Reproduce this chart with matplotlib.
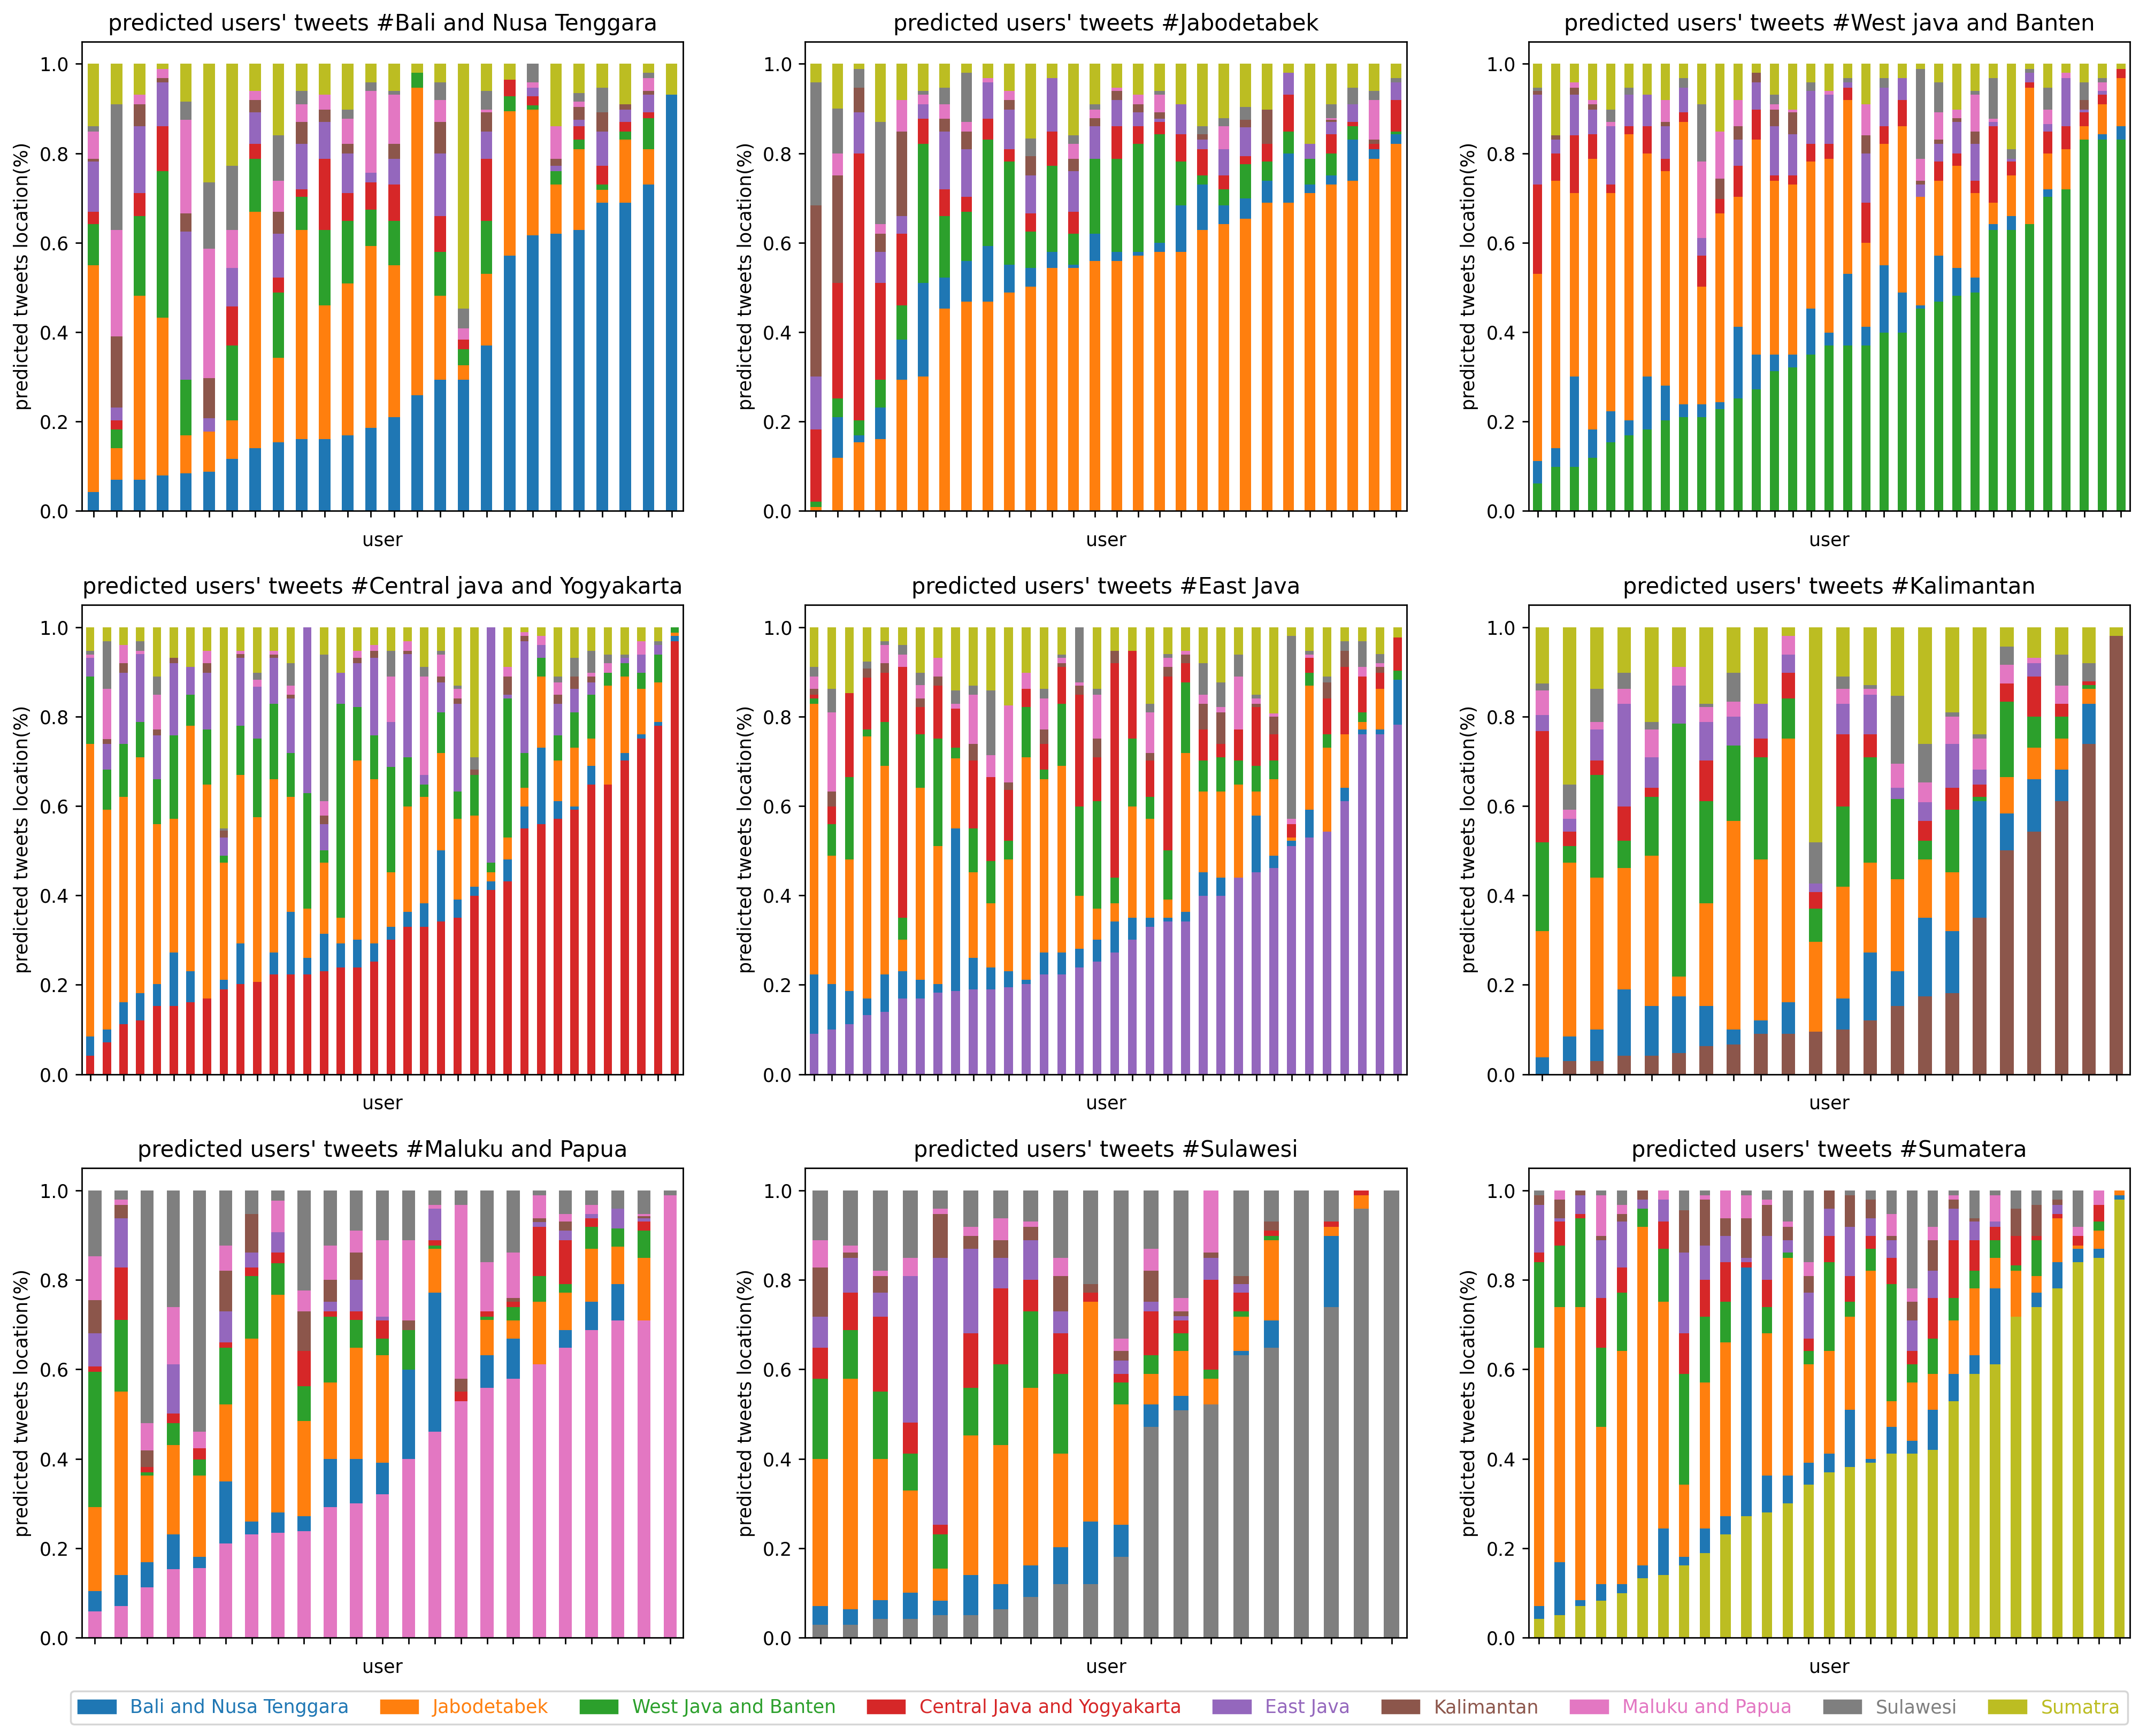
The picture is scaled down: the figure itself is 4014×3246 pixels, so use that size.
import numpy as np
import matplotlib
matplotlib.use("Agg")
import matplotlib.pyplot as plt
from matplotlib.patches import Patch

# bolge isimleri (legend)
regions = ["Bali and Nusa Tenggara", "Jabodetabek", "West Java and Banten",
           "Central Java and Yogyakarta", "East Java", "Kalimantan",
           "Maluku and Papua", "Sulawesi", "Sumatra"]
titles = ["Bali and Nusa Tenggara", "Jabodetabek", "West java and Banten",
          "Central java and Yogyakarta", "East Java", "Kalimantan",
          "Maluku and Papua", "Sulawesi", "Sumatera"]

# her bar icin kumulatif segment ustleri (alttan yukari, son segment 1.0'a kadar)
bali = [
    [0.042, 0.55, 0.641, 0.669, 0.781, 0.788, 0.849, 0.861],
    [0.07, 0.14, 0.182, 0.202, 0.231, 0.39, 0.628, 0.91],
    [0.07, 0.481, 0.66, 0.711, 0.861, 0.91, 0.931, 0.931],
    [0.079, 0.432, 0.76, 0.861, 0.959, 0.968, 0.989, 0.989],
    [0.084, 0.169, 0.293, 0.293, 0.625, 0.665, 0.875, 0.915],
    [0.088, 0.178, 0.178, 0.178, 0.207, 0.297, 0.587, 0.735],
    [0.117, 0.202, 0.37, 0.457, 0.543, 0.543, 0.628, 0.772],
    [0.14, 0.669, 0.788, 0.821, 0.891, 0.919, 0.94, 0.94],
    [0.154, 0.342, 0.489, 0.522, 0.62, 0.669, 0.739, 0.84],
    [0.161, 0.628, 0.702, 0.719, 0.821, 0.87, 0.91, 0.94],
    [0.161, 0.46, 0.628, 0.788, 0.87, 0.898, 0.931, 0.931],
    [0.169, 0.509, 0.649, 0.711, 0.80, 0.821, 0.877, 0.898],
    [0.186, 0.592, 0.674, 0.735, 0.756, 0.756, 0.94, 0.959],
    [0.21, 0.55, 0.649, 0.73, 0.788, 0.821, 0.931, 0.94],
    [0.259, 0.947, 0.98, 0.98, 0.98, 0.98, 0.98, 0.98],
    [0.293, 0.481, 0.579, 0.66, 0.80, 0.87, 0.919, 0.959],
    [0.293, 0.326, 0.362, 0.383, 0.383, 0.383, 0.408, 0.453],
    [0.37, 0.53, 0.649, 0.788, 0.849, 0.891, 0.898, 0.94],
    [0.571, 0.894, 0.928, 0.964, 0.964, 0.964, 0.964, 0.964],
    [0.616, 0.898, 0.907, 0.928, 0.947, 0.947, 0.959, 1.0],
    [0.62, 0.73, 0.76, 0.76, 0.772, 0.788, 0.861, 0.861],
    [0.628, 0.809, 0.83, 0.861, 0.875, 0.903, 0.915, 0.935],
    [0.69, 0.718, 0.73, 0.772, 0.849, 0.891, 0.891, 0.947],
    [0.69, 0.83, 0.849, 0.87, 0.898, 0.91, 0.91, 0.91],
    [0.73, 0.809, 0.879, 0.891, 0.931, 0.94, 0.968, 0.98],
    [0.931, 0.931, 0.931, 0.931, 0.931, 0.931, 0.931, 0.931],
]
jabodetabek = [
    [0.009, 0.009, 0.021, 0.182, 0.301, 0.683, 0.683, 0.959],
    [0.119, 0.21, 0.252, 0.51, 0.51, 0.751, 0.80, 0.90],
    [0.153, 0.169, 0.202, 0.80, 0.891, 0.947, 0.947, 0.989],
    [0.161, 0.231, 0.293, 0.51, 0.579, 0.62, 0.641, 0.87],
    [0.293, 0.383, 0.46, 0.62, 0.66, 0.849, 0.919, 0.919],
    [0.301, 0.51, 0.821, 0.877, 0.91, 0.91, 0.931, 0.94],
    [0.452, 0.522, 0.66, 0.719, 0.849, 0.877, 0.91, 0.947],
    [0.468, 0.559, 0.669, 0.702, 0.809, 0.849, 0.87, 0.98],
    [0.468, 0.592, 0.83, 0.877, 0.959, 0.959, 0.968, 0.968],
    [0.489, 0.551, 0.781, 0.809, 0.898, 0.919, 0.94, 0.94],
    [0.502, 0.543, 0.625, 0.665, 0.751, 0.793, 0.793, 0.833],
    [0.543, 0.579, 0.772, 0.849, 0.968, 0.968, 0.968, 0.968],
    [0.543, 0.551, 0.62, 0.669, 0.76, 0.788, 0.821, 0.84],
    [0.559, 0.62, 0.788, 0.788, 0.861, 0.879, 0.898, 0.91],
    [0.559, 0.579, 0.788, 0.861, 0.919, 0.94, 0.947, 0.947],
    [0.571, 0.579, 0.821, 0.861, 0.891, 0.91, 0.931, 0.931],
    [0.579, 0.60, 0.842, 0.87, 0.877, 0.891, 0.931, 0.94],
    [0.579, 0.683, 0.781, 0.842, 0.91, 0.91, 0.91, 0.91],
    [0.628, 0.73, 0.751, 0.809, 0.83, 0.842, 0.842, 0.861],
    [0.641, 0.683, 0.719, 0.751, 0.809, 0.809, 0.861, 0.879],
    [0.653, 0.699, 0.775, 0.793, 0.858, 0.875, 0.875, 0.903],
    [0.69, 0.739, 0.781, 0.821, 0.821, 0.898, 0.898, 0.898],
    [0.69, 0.80, 0.849, 0.931, 0.98, 0.98, 0.98, 0.98],
    [0.711, 0.73, 0.788, 0.788, 0.821, 0.821, 0.821, 0.821],
    [0.73, 0.751, 0.80, 0.842, 0.87, 0.875, 0.879, 0.91],
    [0.739, 0.83, 0.861, 0.87, 0.91, 0.91, 0.91, 0.947],
    [0.788, 0.809, 0.809, 0.821, 0.821, 0.83, 0.919, 0.94],
    [0.821, 0.842, 0.849, 0.919, 0.959, 0.959, 0.959, 0.968],
]
west_java = [
    [0.062, 0.112, 0.53, 0.73, 0.931, 0.94, 0.94, 0.947],
    [0.099, 0.14, 0.739, 0.80, 0.83, 0.84, 0.84, 0.84],
    [0.099, 0.301, 0.711, 0.84, 0.931, 0.947, 0.959, 0.959],
    [0.119, 0.182, 0.788, 0.842, 0.898, 0.91, 0.919, 0.919],
    [0.153, 0.223, 0.711, 0.73, 0.861, 0.861, 0.87, 0.898],
    [0.169, 0.202, 0.842, 0.861, 0.931, 0.931, 0.931, 0.947],
    [0.182, 0.301, 0.80, 0.861, 0.931, 0.931, 0.931, 0.931],
    [0.202, 0.28, 0.76, 0.788, 0.861, 0.87, 0.919, 0.919],
    [0.21, 0.238, 0.87, 0.891, 0.947, 0.947, 0.947, 0.968],
    [0.21, 0.238, 0.502, 0.571, 0.611, 0.611, 0.781, 0.91],
    [0.228, 0.243, 0.665, 0.698, 0.698, 0.743, 0.849, 0.849],
    [0.252, 0.412, 0.702, 0.772, 0.83, 0.861, 0.919, 0.919],
    [0.272, 0.35, 0.83, 0.898, 0.959, 0.98, 0.98, 0.98],
    [0.313, 0.35, 0.739, 0.751, 0.861, 0.898, 0.91, 0.931],
    [0.321, 0.35, 0.73, 0.751, 0.842, 0.891, 0.898, 0.898],
    [0.35, 0.453, 0.781, 0.821, 0.94, 0.94, 0.94, 0.959],
    [0.37, 0.399, 0.788, 0.821, 0.931, 0.931, 0.94, 0.94],
    [0.37, 0.53, 0.919, 0.947, 0.959, 0.959, 0.959, 0.968],
    [0.37, 0.412, 0.60, 0.69, 0.80, 0.84, 0.91, 0.91],
    [0.399, 0.55, 0.821, 0.861, 0.947, 0.947, 0.947, 0.968],
    [0.399, 0.489, 0.861, 0.919, 0.968, 0.968, 0.968, 0.968],
    [0.452, 0.46, 0.702, 0.702, 0.73, 0.739, 0.788, 0.989],
    [0.468, 0.571, 0.739, 0.781, 0.821, 0.83, 0.891, 0.959],
    [0.481, 0.543, 0.772, 0.80, 0.87, 0.879, 0.898, 0.898],
    [0.489, 0.522, 0.711, 0.739, 0.821, 0.849, 0.931, 0.94],
    [0.628, 0.641, 0.69, 0.861, 0.87, 0.87, 0.877, 0.968],
    [0.628, 0.66, 0.751, 0.781, 0.788, 0.788, 0.788, 0.809],
    [0.641, 0.641, 0.947, 0.959, 0.98, 0.98, 0.98, 0.989],
    [0.702, 0.719, 0.80, 0.849, 0.865, 0.865, 0.898, 0.947],
    [0.719, 0.719, 0.809, 0.861, 0.968, 0.968, 0.98, 0.98],
    [0.83, 0.83, 0.861, 0.891, 0.898, 0.919, 0.919, 0.959],
    [0.83, 0.842, 0.91, 0.931, 0.94, 0.94, 0.959, 0.968],
    [0.83, 0.861, 0.968, 0.989, 0.989, 0.989, 0.989, 0.989],
]
central_java = [
    [0.042, 0.084, 0.739, 0.89, 0.931, 0.931, 0.939, 0.947],
    [0.071, 0.10, 0.592, 0.681, 0.739, 0.75, 0.862, 0.968],
    [0.112, 0.161, 0.62, 0.739, 0.898, 0.919, 0.96, 0.96],
    [0.12, 0.181, 0.709, 0.788, 0.94, 0.94, 0.947, 0.968],
    [0.153, 0.202, 0.559, 0.66, 0.758, 0.771, 0.849, 0.89],
    [0.153, 0.272, 0.571, 0.758, 0.919, 0.931, 0.931, 0.931],
    [0.161, 0.231, 0.779, 0.849, 0.911, 0.911, 0.911, 0.911],
    [0.17, 0.17, 0.648, 0.771, 0.898, 0.919, 0.947, 0.947],
    [0.19, 0.211, 0.473, 0.489, 0.529, 0.545, 0.545, 0.55],
    [0.202, 0.293, 0.669, 0.779, 0.931, 0.94, 0.947, 0.947],
    [0.207, 0.207, 0.575, 0.751, 0.867, 0.867, 0.882, 0.898],
    [0.223, 0.272, 0.66, 0.828, 0.931, 0.939, 0.947, 0.947],
    [0.223, 0.363, 0.62, 0.718, 0.841, 0.849, 0.869, 0.919],
    [0.223, 0.26, 0.37, 0.629, 1.0, 1.0, 1.0, 1.0],
    [0.231, 0.314, 0.473, 0.501, 0.559, 0.578, 0.611, 0.939],
    [0.239, 0.293, 0.35, 0.828, 0.898, 0.898, 0.898, 0.898],
    [0.239, 0.301, 0.702, 0.821, 0.919, 0.931, 0.947, 0.947],
    [0.252, 0.293, 0.66, 0.758, 0.931, 0.947, 0.96, 0.96],
    [0.301, 0.33, 0.452, 0.688, 0.788, 0.788, 0.89, 0.947],
    [0.33, 0.363, 0.599, 0.709, 0.94, 0.947, 0.968, 0.968],
    [0.33, 0.382, 0.62, 0.648, 0.669, 0.669, 0.89, 0.911],
    [0.342, 0.501, 0.718, 0.809, 0.877, 0.89, 0.939, 0.947],
    [0.35, 0.391, 0.571, 0.632, 0.828, 0.841, 0.862, 0.869],
    [0.399, 0.419, 0.578, 0.669, 0.669, 0.681, 0.681, 0.709],
    [0.412, 0.431, 0.452, 0.473, 1.0, 1.0, 1.0, 1.0],
    [0.431, 0.48, 0.529, 0.841, 0.849, 0.89, 0.911, 0.911],
    [0.55, 0.599, 0.641, 0.718, 0.968, 0.98, 0.989, 0.989],
    [0.559, 0.73, 0.89, 0.931, 0.96, 0.96, 0.98, 0.98],
    [0.571, 0.611, 0.702, 0.758, 0.828, 0.849, 0.877, 0.89],
    [0.592, 0.599, 0.73, 0.809, 0.862, 0.89, 0.89, 0.931],
    [0.648, 0.69, 0.751, 0.849, 0.877, 0.89, 0.898, 0.947],
    [0.648, 0.648, 0.869, 0.898, 0.898, 0.898, 0.919, 0.939],
    [0.702, 0.718, 0.89, 0.919, 0.931, 0.931, 0.931, 0.939],
    [0.751, 0.76, 0.862, 0.898, 0.939, 0.939, 0.968, 0.968],
    [0.779, 0.788, 0.877, 0.939, 0.96, 0.96, 0.96, 0.968],
    [0.968, 0.98, 0.988, 1.0, 1.0, 1.0, 1.0, 1.0],
]
east_java = [
    [0.091, 0.223, 0.828, 0.841, 0.849, 0.862, 0.89, 0.911],
    [0.10, 0.202, 0.489, 0.559, 0.599, 0.632, 0.809, 0.862],
    [0.112, 0.186, 0.48, 0.665, 0.853, 0.853, 0.853, 0.853],
    [0.132, 0.17, 0.755, 0.771, 0.887, 0.907, 0.907, 0.923],
    [0.14, 0.223, 0.69, 0.788, 0.898, 0.919, 0.96, 0.968],
    [0.17, 0.231, 0.301, 0.35, 0.911, 0.911, 0.939, 0.96],
    [0.169, 0.211, 0.641, 0.76, 0.821, 0.841, 0.87, 0.898],
    [0.182, 0.202, 0.51, 0.751, 0.869, 0.89, 0.931, 0.931],
    [0.186, 0.55, 0.706, 0.73, 0.818, 0.818, 0.828, 0.858],
    [0.19, 0.26, 0.452, 0.55, 0.702, 0.739, 0.849, 0.869],
    [0.19, 0.239, 0.382, 0.477, 0.665, 0.665, 0.714, 0.858],
    [0.195, 0.231, 0.48, 0.522, 0.636, 0.653, 0.825, 0.825],
    [0.202, 0.211, 0.709, 0.821, 0.862, 0.862, 0.898, 0.898],
    [0.223, 0.272, 0.66, 0.681, 0.739, 0.771, 0.841, 0.862],
    [0.223, 0.272, 0.69, 0.828, 0.911, 0.919, 0.931, 0.939],
    [0.239, 0.281, 0.399, 0.599, 0.849, 0.869, 0.877, 1.0],
    [0.252, 0.301, 0.37, 0.611, 0.709, 0.751, 0.849, 0.862],
    [0.272, 0.342, 0.382, 0.44, 0.919, 0.947, 0.947, 0.947],
    [0.301, 0.35, 0.599, 0.751, 0.947, 0.947, 0.947, 0.947],
    [0.33, 0.35, 0.571, 0.62, 0.702, 0.718, 0.809, 0.828],
    [0.342, 0.35, 0.391, 0.501, 0.89, 0.911, 0.931, 0.94],
    [0.342, 0.363, 0.718, 0.877, 0.919, 0.939, 0.947, 0.947],
    [0.399, 0.452, 0.632, 0.702, 0.771, 0.828, 0.849, 0.919],
    [0.399, 0.44, 0.632, 0.709, 0.739, 0.809, 0.821, 0.877],
    [0.44, 0.44, 0.648, 0.702, 0.771, 0.771, 0.89, 0.939],
    [0.452, 0.578, 0.632, 0.69, 0.821, 0.828, 0.841, 0.849],
    [0.461, 0.489, 0.66, 0.702, 0.76, 0.80, 0.807, 0.807],
    [0.51, 0.522, 0.529, 0.529, 0.559, 0.559, 0.571, 0.98],
    [0.529, 0.592, 0.869, 0.898, 0.931, 0.931, 0.939, 0.947],
    [0.543, 0.543, 0.73, 0.76, 0.841, 0.877, 0.877, 0.89],
    [0.611, 0.641, 0.76, 0.76, 0.911, 0.947, 0.947, 0.968],
    [0.76, 0.771, 0.788, 0.809, 0.89, 0.89, 0.911, 0.968],
    [0.76, 0.771, 0.862, 0.862, 0.898, 0.911, 0.919, 0.94],
    [0.782, 0.882, 0.882, 0.903, 0.977, 0.977, 0.977, 0.977],
]
kalimantan = [
    [0.0, 0.038, 0.32, 0.519, 0.767, 0.804, 0.858, 0.874],
    [0.03, 0.084, 0.473, 0.51, 0.543, 0.571, 0.592, 0.648],
    [0.03, 0.10, 0.44, 0.669, 0.702, 0.771, 0.788, 0.862],
    [0.042, 0.19, 0.461, 0.522, 0.599, 0.828, 0.862, 0.898],
    [0.042, 0.153, 0.489, 0.62, 0.641, 0.709, 0.771, 0.788],
    [0.048, 0.174, 0.219, 0.784, 0.784, 0.869, 0.911, 0.911],
    [0.063, 0.153, 0.382, 0.611, 0.702, 0.788, 0.821, 0.828],
    [0.067, 0.10, 0.567, 0.735, 0.735, 0.80, 0.833, 0.898],
    [0.091, 0.12, 0.48, 0.709, 0.751, 0.828, 0.828, 0.828],
    [0.091, 0.161, 0.751, 0.841, 0.898, 0.939, 0.98, 0.98],
    [0.095, 0.095, 0.296, 0.37, 0.407, 0.427, 0.427, 0.519],
    [0.10, 0.17, 0.419, 0.599, 0.76, 0.828, 0.862, 0.89],
    [0.12, 0.272, 0.473, 0.709, 0.76, 0.849, 0.862, 0.87],
    [0.153, 0.231, 0.436, 0.616, 0.616, 0.641, 0.694, 0.846],
    [0.174, 0.35, 0.48, 0.522, 0.567, 0.608, 0.653, 0.739],
    [0.181, 0.32, 0.452, 0.592, 0.641, 0.739, 0.80, 0.809],
    [0.35, 0.611, 0.611, 0.62, 0.648, 0.681, 0.751, 0.76],
    [0.501, 0.583, 0.665, 0.833, 0.874, 0.874, 0.916, 0.956],
    [0.543, 0.66, 0.73, 0.80, 0.89, 0.919, 0.931, 0.931],
    [0.611, 0.681, 0.751, 0.80, 0.828, 0.828, 0.869, 0.939],
    [0.739, 0.828, 0.862, 0.871, 0.879, 0.879, 0.879, 0.919],
    [0.98, 0.98, 0.98, 0.98, 0.98, 0.98, 0.98, 0.98],
]
maluku = [
    [0.058, 0.104, 0.292, 0.595, 0.607, 0.681, 0.755, 0.853],
    [0.07, 0.14, 0.55, 0.711, 0.828, 0.938, 0.968, 0.98],
    [0.112, 0.169, 0.362, 0.37, 0.382, 0.382, 0.419, 0.48],
    [0.153, 0.231, 0.431, 0.48, 0.501, 0.611, 0.611, 0.739],
    [0.156, 0.181, 0.362, 0.398, 0.424, 0.424, 0.424, 0.461],
    [0.21, 0.349, 0.522, 0.648, 0.66, 0.73, 0.821, 0.877],
    [0.231, 0.259, 0.669, 0.809, 0.828, 0.861, 0.947, 0.947],
    [0.235, 0.28, 0.767, 0.837, 0.861, 0.907, 0.907, 0.977],
    [0.238, 0.272, 0.485, 0.562, 0.641, 0.641, 0.73, 0.776],
    [0.292, 0.399, 0.571, 0.718, 0.73, 0.751, 0.80, 0.877],
    [0.30, 0.399, 0.648, 0.711, 0.73, 0.80, 0.861, 0.91],
    [0.321, 0.391, 0.632, 0.669, 0.709, 0.718, 0.718, 0.889],
    [0.399, 0.599, 0.599, 0.688, 0.688, 0.688, 0.709, 0.889],
    [0.461, 0.772, 0.87, 0.877, 0.889, 0.959, 0.959, 0.968],
    [0.529, 0.529, 0.529, 0.529, 0.55, 0.55, 0.579, 0.968],
    [0.559, 0.632, 0.711, 0.718, 0.73, 0.73, 0.73, 0.84],
    [0.579, 0.669, 0.709, 0.739, 0.751, 0.751, 0.76, 0.861],
    [0.611, 0.611, 0.751, 0.809, 0.919, 0.93, 0.938, 0.989],
    [0.648, 0.688, 0.772, 0.791, 0.889, 0.91, 0.931, 0.947],
    [0.688, 0.751, 0.87, 0.919, 0.938, 0.947, 0.947, 0.968],
    [0.709, 0.791, 0.874, 0.915, 0.915, 0.959, 0.959, 0.959],
    [0.709, 0.709, 0.849, 0.91, 0.931, 0.938, 0.942, 0.947],
    [0.989, 0.989, 0.989, 0.989, 0.989, 0.989, 0.989, 0.989],
]
sulawesi = [
    [0.029, 0.071, 0.399, 0.579, 0.648, 0.718, 0.828, 0.889],
    [0.029, 0.063, 0.579, 0.688, 0.772, 0.849, 0.861, 0.877],
    [0.042, 0.084, 0.399, 0.55, 0.718, 0.772, 0.809, 0.821],
    [0.042, 0.10, 0.329, 0.412, 0.481, 0.809, 0.809, 0.849],
    [0.05, 0.083, 0.154, 0.231, 0.252, 0.849, 0.947, 0.959],
    [0.05, 0.14, 0.452, 0.559, 0.681, 0.87, 0.898, 0.919],
    [0.063, 0.12, 0.431, 0.611, 0.781, 0.849, 0.889, 0.938],
    [0.091, 0.161, 0.559, 0.73, 0.80, 0.889, 0.919, 0.931],
    [0.12, 0.202, 0.412, 0.59, 0.681, 0.73, 0.809, 0.849],
    [0.12, 0.259, 0.751, 0.751, 0.772, 0.772, 0.791, 0.791],
    [0.181, 0.252, 0.522, 0.571, 0.59, 0.62, 0.641, 0.669],
    [0.471, 0.522, 0.59, 0.632, 0.73, 0.751, 0.821, 0.87],
    [0.508, 0.541, 0.641, 0.681, 0.709, 0.719, 0.73, 0.76],
    [0.522, 0.522, 0.579, 0.599, 0.80, 0.849, 0.861, 1.0],
    [0.632, 0.641, 0.718, 0.73, 0.772, 0.791, 0.809, 0.809],
    [0.648, 0.709, 0.889, 0.898, 0.91, 0.91, 0.931, 0.931],
    [1.0, 1.0, 1.0, 1.0, 1.0, 1.0, 1.0, 1.0],
    [0.739, 0.898, 0.919, 0.919, 0.931, 0.931, 0.931, 0.931],
    [0.959, 0.959, 0.989, 0.989, 1.0, 1.0, 1.0, 1.0],
    [1.0, 1.0, 1.0, 1.0, 1.0, 1.0, 1.0, 1.0],
]
sumatera = [
    [0.042, 0.071, 0.648, 0.84, 0.861, 0.968, 0.989, 0.989],
    [0.05, 0.169, 0.739, 0.877, 0.931, 0.938, 0.98, 1.0],
    [0.071, 0.084, 0.739, 0.938, 0.947, 0.989, 1.0, 1.0],
    [0.083, 0.12, 0.471, 0.648, 0.76, 0.889, 0.898, 0.989],
    [0.099, 0.12, 0.641, 0.772, 0.828, 0.931, 0.947, 0.968],
    [0.133, 0.161, 0.919, 0.959, 0.959, 0.98, 1.0, 1.0],
    [0.14, 0.244, 0.751, 0.87, 0.931, 0.98, 0.98, 1.0],
    [0.161, 0.181, 0.342, 0.59, 0.681, 0.861, 0.956, 0.956],
    [0.189, 0.244, 0.571, 0.718, 0.80, 0.877, 0.98, 0.989],
    [0.231, 0.272, 0.66, 0.751, 0.84, 0.898, 0.938, 1.0],
    [0.272, 0.828, 0.828, 0.828, 0.84, 0.849, 0.938, 0.989],
    [0.28, 0.362, 0.681, 0.739, 0.80, 0.898, 0.968, 0.98],
    [0.30, 0.362, 0.849, 0.861, 0.861, 0.889, 0.919, 0.931],
    [0.342, 0.391, 0.611, 0.641, 0.669, 0.772, 0.809, 0.84],
    [0.37, 0.412, 0.641, 0.84, 0.898, 0.959, 1.0, 1.0],
    [0.382, 0.509, 0.718, 0.751, 0.809, 0.919, 0.989, 0.989],
    [0.391, 0.399, 0.821, 0.87, 0.898, 0.938, 0.98, 0.98],
    [0.412, 0.471, 0.529, 0.791, 0.849, 0.889, 0.898, 0.947],
    [0.412, 0.44, 0.571, 0.611, 0.641, 0.709, 0.751, 0.781],
    [0.42, 0.509, 0.59, 0.669, 0.76, 0.821, 0.889, 0.919],
    [0.529, 0.59, 0.709, 0.76, 0.889, 0.959, 0.98, 0.989],
    [0.59, 0.632, 0.781, 0.821, 0.889, 0.931, 0.938, 0.938],
    [0.611, 0.781, 0.849, 0.889, 0.919, 0.931, 0.931, 0.989],
    [0.718, 0.718, 0.821, 0.833, 0.898, 0.898, 0.959, 0.959],
    [0.739, 0.772, 0.809, 0.889, 0.898, 0.898, 0.968, 0.968],
    [0.781, 0.84, 0.938, 0.938, 0.947, 0.968, 0.98, 0.98],
    [0.84, 0.87, 0.877, 0.877, 0.898, 0.898, 0.898, 0.919],
    [0.849, 0.87, 0.91, 0.931, 0.968, 0.968, 0.968, 1.0],
    [0.98, 0.989, 1.0, 1.0, 1.0, 1.0, 1.0, 1.0],
]

all_data = [bali, jabodetabek, west_java, central_java, east_java,
            kalimantan, maluku, sulawesi, sumatera]

# renkler: tab10, her grafikte alttan yukari renk sirasi
renkler = plt.rcParams['axes.prop_cycle'].by_key()['color']
stack_order = [
    [0, 1, 2, 3, 4, 5, 6, 7, 8],
    [1, 0, 2, 3, 4, 5, 6, 7, 8],
    [2, 0, 1, 3, 4, 5, 6, 7, 8],
    [3, 0, 1, 2, 4, 5, 6, 7, 8],
    [4, 0, 1, 2, 3, 5, 6, 7, 8],
    [5, 0, 1, 2, 3, 4, 6, 7, 8],
    [6, 0, 1, 2, 3, 4, 5, 6, 7],
    [7, 0, 1, 2, 3, 4, 5, 6, 7],
    [8, 0, 1, 2, 3, 4, 5, 6, 7],
]

# 250 dpi ile 4015x3246 piksel
fig, axes = plt.subplots(3, 3, figsize=(16.06, 12.984), dpi=250)
fig.subplots_adjust(left=0.0381, right=0.9918, top=0.9761, bottom=0.0567,
                    wspace=0.203, hspace=0.20)

for i, ax in enumerate(axes.flat):
    tops = np.array(all_data[i])
    n = len(tops)
    x = np.arange(n)
    edges = np.hstack([np.zeros((n, 1)), tops, np.ones((n, 1))])
    heights = np.diff(edges, axis=1)
    for j in range(9):
        ax.bar(x, heights[:, j], width=0.5, bottom=edges[:, j],
               color=renkler[stack_order[i][j]])
    ax.set_xlim(-0.5, n - 0.5)
    ax.set_ylim(0, 1.05)
    ax.set_xticks(x)
    ax.set_xticklabels([""] * n)
    ax.set_xlabel("user")
    ax.set_ylabel("predicted tweets location(%)")
    ax.set_title("predicted users' tweets #" + titles[i])

handles = [Patch(color=renkler[k]) for k in range(9)]
leg = fig.legend(handles, regions, loc="center", ncol=9, mode="expand",
                 bbox_to_anchor=(0.0286, 0.0068, 0.9664, 0.019))
for k, t in enumerate(leg.get_texts()):
    t.set_color(renkler[k])

fig.savefig("out.png", dpi=250)
